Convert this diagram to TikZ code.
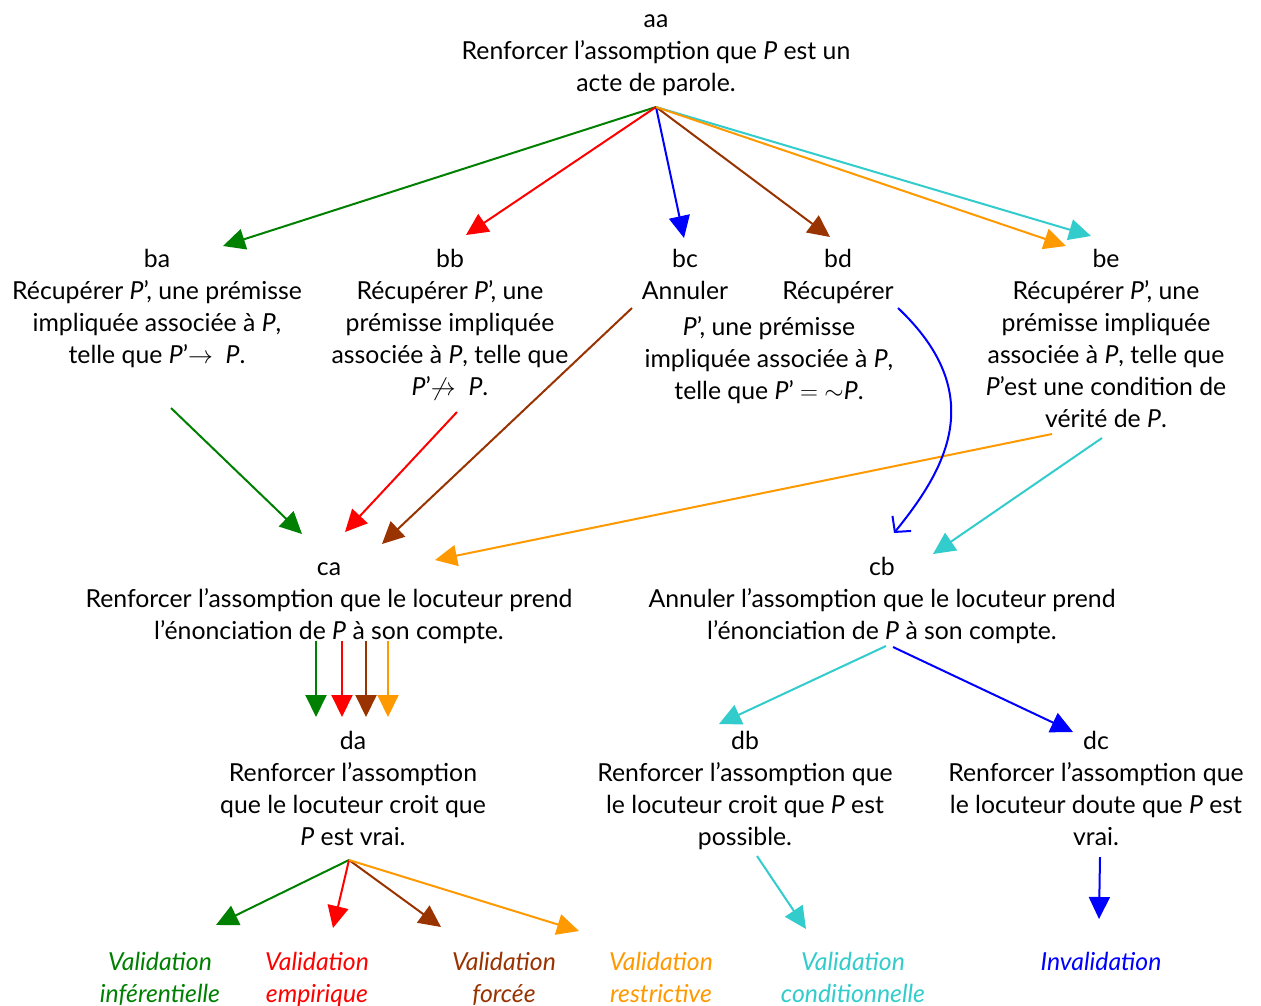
\documentclass[tikz,border=0pt]{standalone}
\usepackage{fontspec}
\setmainfont{Lato}
\usetikzlibrary{arrows.meta}
\definecolor{cgreen}{RGB}{0,128,0}
\definecolor{cred}{RGB}{255,0,0}
\definecolor{cblue}{RGB}{0,0,255}
\definecolor{cbrown}{RGB}{153,51,0}
\definecolor{corange}{RGB}{255,153,0}
\definecolor{ccyan}{RGB}{51,204,204}
\newcommand{\Pv}{\textit{P}}
% fixed-height first line, so that a node's north anchor is 25pt above its first baseline
\newcommand{\hd}{\rule{0pt}{25pt}}
\begin{document}
\begin{tikzpicture}[x=1pt,y=-1pt,
  txt/.style={align=center, inner sep=0pt, anchor=north,
    font=\fontsize{24.8}{32}\selectfont},
  lab/.style={txt, font=\fontsize{24.8}{32}\selectfont\itshape},
  arr/.style={line width=2pt, -{Triangle[length=22pt,width=21pt]}},
  open arr/.style={line width=2pt, -{Straight Barb[length=11pt,width=24pt]}}]
\path[fill=white,use as bounding box] (0,0) rectangle (1261,1005);

% level a (node positions give the top of each text block)
\node[txt] (aa) at (656,2) {\hd aa\\Renforcer l’assomption que \Pv\ est un\\acte de parole.};
% level b
\node[txt] (ba) at (157,242) {\hd ba\\Récupérer \Pv’, une prémisse\\impliquée associée à \Pv,\\telle que \Pv’$\rightarrow$\ \ \Pv.};
\node[txt] (bb) at (450,242) {\hd bb\\Récupérer \Pv’, une\\prémisse impliquée\\associée à \Pv, telle que\\\Pv’$\not\rightarrow$\ \ \Pv.};
\node[txt] (bc) at (685,242) {\hd bc\\Annuler};
\node[txt] (bd) at (838,242) {\hd bd\\Récupérer};
\node[txt] (bcd) at (769,310) {\hd\Pv’, une prémisse\\impliquée associée à \Pv,\\telle que \Pv’ $=$ $\sim$\Pv.};
\node[txt] (be) at (1106,242) {\hd be\\Récupérer \Pv’, une\\prémisse impliquée\\associée à \Pv, telle que\\\Pv’est une condition de\\vérité de \Pv.};
% level c
\node[txt] (ca) at (329,550) {\hd ca\\Renforcer l’assomption que le locuteur prend\\l’énonciation de \Pv\ à son compte.};
\node[txt] (cb) at (882,550) {\hd cb\\Annuler l’assomption que le locuteur prend\\l’énonciation de \Pv\ à son compte.};
% level d
\node[txt] (da) at (353,724) {\hd da\\Renforcer l’assomption\\que le locuteur croit que\\\Pv\ est vrai.};
\node[txt] (db) at (745,724) {\hd db\\Renforcer l’assomption que\\le locuteur croit que \Pv\ est\\possible.};
\node[txt] (dc) at (1096,724) {\hd dc\\Renforcer l’assomption que\\le locuteur doute que \Pv\ est\\vrai.};
% outcomes
\node[lab,text=cgreen] (v1) at (160,945) {\hd Validation\\inférentielle};
\node[lab,text=cred] (v2) at (317,945) {\hd Validation\\empirique};
\node[lab,text=cbrown] (v3) at (504,945) {\hd Validation\\forcée};
\node[lab,text=corange] (v4) at (661,945) {\hd Validation\\restrictive};
\node[lab,text=ccyan] (v5) at (853,945) {\hd Validation\\conditionnelle};
\node[lab,text=cblue] (v6) at (1101,945) {\hd Invalidation};

% connection points
\coordinate (aa-o) at (656,107);
\coordinate (ba-i) at (223,246);
\coordinate (bb-i) at (466,235);
\coordinate (bc-i) at (684,238);
\coordinate (bd-i) at (830,237);
\coordinate (be-i1) at (1066,246);
\coordinate (be-i2) at (1091,236);
\coordinate (ba-o) at (171,408);
\coordinate (bb-o) at (457,412);
\coordinate (bc-o) at (632,308);
\coordinate (bd-o) at (898,308);
\coordinate (be-o1) at (1052,434);
\coordinate (be-o2) at (1102,438);
\coordinate (ca-i1) at (302,534);
\coordinate (ca-i2) at (345,532);
\coordinate (ca-i3) at (382,544);
\coordinate (ca-i4) at (435,560);
\coordinate (cb-i1) at (894,533);
\coordinate (cb-i2) at (933,554);
\coordinate (cb-o1) at (886,646);
\coordinate (cb-o2) at (893,647);
\coordinate (db-i) at (719,724);
\coordinate (dc-i) at (1073,732);
\coordinate (da-o) at (349,860);
\coordinate (db-o) at (757,856);
\coordinate (dc-o) at (1100,857);
\coordinate (v1-i) at (216,925);
\coordinate (v2-i) at (333,928);
\coordinate (v3-i) at (441,927);
\coordinate (v4-i) at (579,931);
\coordinate (v5-i) at (806,929);
\coordinate (v6-i) at (1099,919);

% a -> b
\draw[arr,cgreen] (aa-o) -- (ba-i);
\draw[arr,cred] (aa-o) -- (bb-i);
\draw[arr,cblue] (aa-o) -- (bc-i);
\draw[arr,cbrown] (aa-o) -- (bd-i);
\draw[arr,ccyan] (aa-o) -- (be-i2);
\draw[arr,corange] (aa-o) -- (be-i1);
% b -> c
\draw[arr,cgreen] (ba-o) -- (ca-i1);
\draw[arr,cred] (bb-o) -- (ca-i2);
\draw[arr,cbrown] (bc-o) -- (ca-i3);
\draw[arr,corange] (be-o1) -- (ca-i4);
\draw[open arr,cblue] (bd-o) .. controls (990,395) and (945,470) .. (cb-i1);
\draw[arr,ccyan] (be-o2) -- (cb-i2);
% c -> d
\foreach \xx/\cc in {316/cgreen,342/cred,366/cbrown,388/corange}
  \draw[arr,\cc] (\xx,641) -- (\xx,717);
\draw[arr,ccyan] (cb-o1) -- (db-i);
\draw[arr,cblue] (cb-o2) -- (dc-i);
% d -> outcomes
\draw[arr,cgreen] (da-o) -- (v1-i);
\draw[arr,cred] (da-o) -- (v2-i);
\draw[arr,cbrown] (da-o) -- (v3-i);
\draw[arr,corange] (da-o) -- (v4-i);
\draw[arr,ccyan] (db-o) -- (v5-i);
\draw[arr,cblue] (dc-o) -- (v6-i);
\end{tikzpicture}
\end{document}
